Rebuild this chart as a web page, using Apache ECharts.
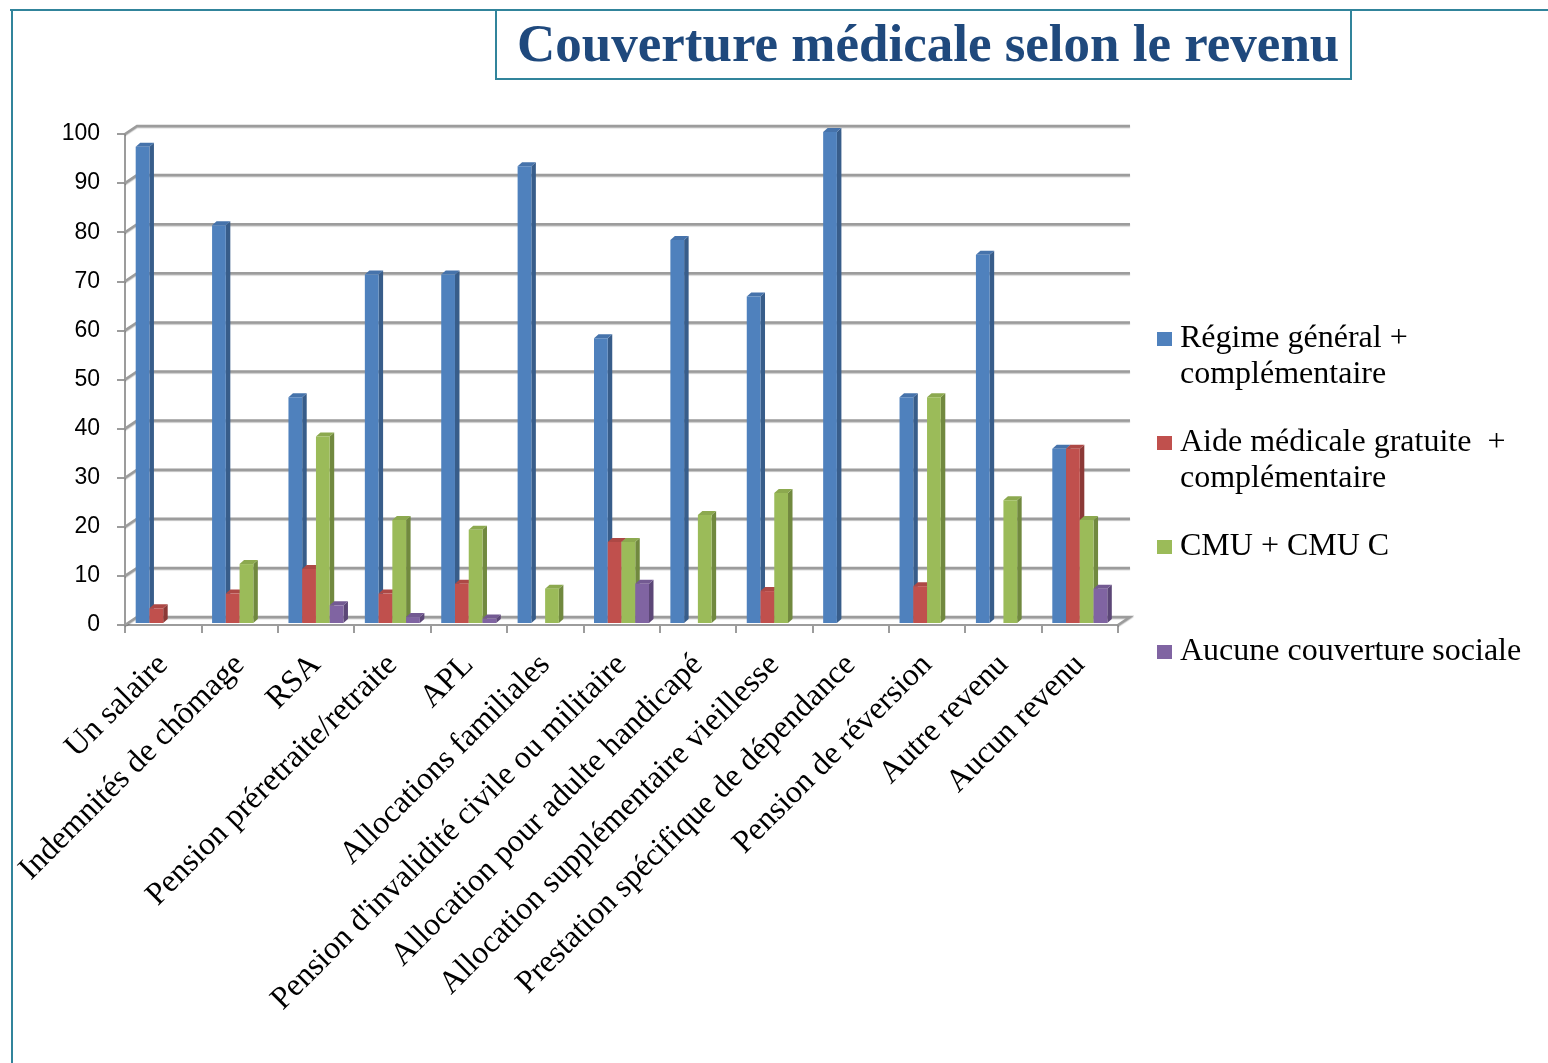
<!DOCTYPE html>
<html>
<head>
<meta charset="utf-8">
<script src="https://cdn.jsdelivr.net/npm/echarts@6/dist/echarts.min.js"></script>
<style>
html, body { margin: 0; padding: 0; background: #fff; }
#chart { width: 1548px; height: 1063px; }
</style>
</head>
<body>
<div id="chart"></div>
<script>
var categories = [
    'Un salaire', 'Indemnités de chômage', 'RSA', 'Pension préretraite/retraite', 'APL',
    'Allocations familiales', "Pension d'invalidité civile ou militaire", 'Allocation pour adulte handicapé',
    'Allocation supplémentaire vieillesse', 'Prestation spécifique de dépendance', 'Pension de réversion',
    'Autre revenu', 'Aucun revenu'
];
var regime = [97, 81, 46, 71, 71, 93, 58, 78, 66.5, 100, 46, 75, 35.5];
var aide = [3, 6, 11, 6, 8, null, 16.5, null, 6.5, null, 7.5, null, 35.5];
var cmu = [null, 12, 38, 21, 19, 7, 16.5, 22, 26.5, null, 46, 25, 21];
var aucune = [null, null, 3.6, 1.2, 0.9, null, 8, null, null, null, null, null, 7];
var seriesNames = ['Régime général + complémentaire', 'Aide médicale gratuite + complémentaire', 'CMU + CMU C', 'Aucune couverture sociale'];
var legendTexts = ['\nRégime général +\ncomplémentaire', '\nAide médicale gratuite  +\ncomplémentaire', 'CMU + CMU C', 'Aucune couverture sociale'];
var yTicks = [0, 10, 20, 30, 40, 50, 60, 70, 80, 90, 100];

// couleurs: face, côté, dessus
var palette = [
    ['#4F81BD', '#385D8A', '#4673AB'],
    ['#C0504D', '#8C3937', '#AD4845'],
    ['#9BBB59', '#71893F', '#8CA94F'],
    ['#8064A2', '#5C4777', '#735A92']
];

var BAR_W = 13.75, DX = 4.5, DY = -4, LIFT = 2;
var WALL_DX = 12, WALL_DY = -8;

function bar3d(slot) {
    var c = palette[slot];
    return function (params, api) {
        var v = api.value(1);
        if (v == null || isNaN(v) || v <= 0) return;
        var base = api.coord([api.value(0), 0]);
        var top = api.coord([api.value(0), v]);
        var x0 = base[0] + (slot - 2) * BAR_W;
        var x1 = x0 + BAR_W;
        var y0 = base[1] - LIFT;
        var y1 = top[1] - LIFT;
        return {
            type: 'group',
            children: [
                { type: 'polygon', shape: { points: [[x1, y1], [x1 + DX, y1 + DY], [x1 + DX, y0 + DY], [x1, y0]] }, style: { fill: c[1] } },
                { type: 'polygon', shape: { points: [[x0, y1], [x0 + DX, y1 + DY], [x1 + DX, y1 + DY], [x1, y1]] }, style: { fill: c[2] } },
                { type: 'rect', shape: { x: x0, y: y1, width: BAR_W, height: y0 - y1 }, style: { fill: c[0] } }
            ]
        };
    };
}

function wall(params, api) {
    var cs = params.coordSys;
    var y = api.coord([0, api.value(1)])[1];
    var left = cs.x, right = cs.x + cs.width;
    var pts = [[left, y], [left + WALL_DX, y + WALL_DY], [right + WALL_DX, y + WALL_DY]];
    if (api.value(1) === 0) pts.push([right, y]);
    return {
        type: 'polyline',
        shape: { points: pts },
        style: { stroke: '#9C9C9C', lineWidth: 2.5, fill: null, shadowColor: 'rgba(0,0,0,0.25)', shadowOffsetY: 1, shadowBlur: 1 }
    };
}

var allValues = [regime, aide, cmu, aucune];
var series = [{
    type: 'custom',
    name: 'wall',
    renderItem: wall,
    data: yTicks.map(function (t) { return [0, t]; }),
    encode: { x: 0, y: 1 },
    z: 1,
    silent: true
}];
allValues.forEach(function (vals, s) {
    series.push({
        type: 'custom',
        name: seriesNames[s],
        renderItem: bar3d(s),
        itemStyle: { color: palette[s][0] },
        data: vals.map(function (v, i) { return [i, v == null ? NaN : v]; }),
        encode: { x: 0, y: 1 },
        z: 3
    });
});

var iconCenters = [337, 441, 545, 650];
var legends = seriesNames.map(function (n, i) {
    var lines = legendTexts[i].split('\n').length;
    return {
        data: [n],
        orient: 'vertical',
        left: 1157,
        top: iconCenters[i] - lines * 36 / 2 + 2,
        padding: 0,
        itemWidth: 15,
        itemHeight: 14,
        icon: 'rect',
        selectedMode: false,
        formatter: function () { return legendTexts[i]; },
        textStyle: { fontFamily: 'Liberation Serif', fontSize: 32, lineHeight: 36, color: '#000', padding: [0, 0, 0, 3] }
    };
});

var chart = echarts.init(document.getElementById('chart'));
chart.setOption({
    animation: false,
    backgroundColor: '#fff',
    title: {
        text: 'Couverture médicale selon le revenu',
        left: 496,
        top: 10,
        padding: [10, 12, 4, 21],
        borderWidth: 2,
        borderColor: '#31849B',
        textStyle: { fontFamily: 'Liberation Serif', fontWeight: 'bold', fontSize: 53, lineHeight: 55, color: '#1F497D' }
    },
    graphic: [
        { type: 'line', shape: { x1: 10, y1: 10, x2: 1548, y2: 10 }, style: { stroke: '#31849B', lineWidth: 2 } },
        { type: 'line', shape: { x1: 12, y1: 10, x2: 12, y2: 1063 }, style: { stroke: '#31849B', lineWidth: 2 } }
    ],
    legend: legends,
    grid: { left: 125, right: 430, top: 134, bottom: 438 },
    xAxis: {
        type: 'category',
        data: categories,
        axisLine: { lineStyle: { color: '#9C9C9C', width: 2 } },
        axisTick: { show: true, length: 8, lineStyle: { color: '#9C9C9C', width: 2 } },
        axisLabel: { interval: 0, rotate: 45, margin: 35, fontFamily: 'Liberation Serif', fontSize: 32, color: '#000' }
    },
    yAxis: {
        type: 'value',
        min: 0,
        max: 100,
        interval: 10,
        splitLine: { show: false },
        axisLine: { show: true, lineStyle: { color: '#9C9C9C', width: 2 } },
        axisTick: { show: true, length: 8, lineStyle: { color: '#9C9C9C', width: 2 } },
        axisLabel: { margin: 25, fontFamily: 'Liberation Sans', fontSize: 23, color: '#000', padding: [4, 0, 0, 0] }
    },
    series: series
});
</script>
</body>
</html>
